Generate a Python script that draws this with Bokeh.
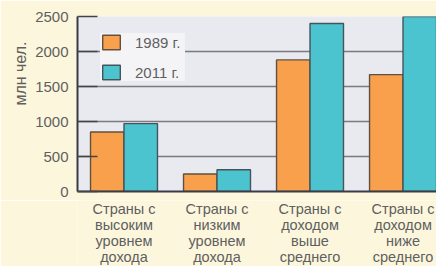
from bokeh.plotting import figure
from bokeh.layouts import column
from bokeh.models import Range1d, FixedTicker, Title, Legend, LegendItem, ColumnDataSource
from bokeh.transform import dodge
from bokeh.embed import file_html
from bokeh.resources import INLINE
from bokeh.core.properties import value

categories = ["Страны с\nвысоким\nуровнем\nдохода",
              "Страны с\nнизким\nуровнем\nдохода",
              "Страны с\nдоходом\nвыше\nсреднего",
              "Страны с\nдоходом\nниже\nсреднего"]
values_1989 = [850, 250, 1880, 1670]
values_2011 = [970, 310, 2400, 2540]
y_ticks = [0, 500, 1000, 1500, 2000, 2500]

pos = [i + 0.5 for i in range(len(categories))]
src = ColumnDataSource(dict(x=pos, v1989=values_1989, v2011=values_2011, cat=categories))

FONT = "Liberation Sans"
TXT = "#5f5f5f"
CREAM = "#fcf7dc"

W = 436
H1 = 200
H2 = 66
xr = Range1d(0, 3.86)

p = figure(width=W, height=H1, output_backend="svg", toolbar_location=None,
           x_range=xr, y_range=Range1d(0, 2500),
           min_border_left=77, min_border_right=0, min_border_top=16, min_border_bottom=9)
p.background_fill_color = "#e9e9f0"
p.border_fill_color = CREAM
p.outline_line_color = None

r1 = p.vbar(x=dodge("x", -0.18, range=p.x_range), top="v1989", width=0.36, source=src,
            fill_color="#f8a04c", line_color="#5f5040", line_width=1.4)
r2 = p.vbar(x=dodge("x", 0.18, range=p.x_range), top="v2011", width=0.36, source=src,
            fill_color="#4cc4d0", line_color="#44545a", line_width=1.4)

p.xgrid.visible = False
p.ygrid.ticker = FixedTicker(ticks=y_ticks)
p.ygrid.grid_line_color = "#7a7a80"
p.ygrid.grid_line_width = 1.5

p.yaxis.ticker = FixedTicker(ticks=y_ticks)
p.yaxis.major_tick_in = 20
p.yaxis.major_tick_out = 0
p.yaxis.major_tick_line_color = "#444444"
p.yaxis.major_tick_line_width = 1.5
p.yaxis.minor_tick_line_color = None
p.yaxis.axis_line_color = "#3a3a48"
p.yaxis.axis_line_width = 2
p.yaxis.major_label_text_font = FONT
p.yaxis.major_label_text_font_size = "15px"
p.yaxis.major_label_text_color = TXT
p.yaxis.major_label_standoff = 9

p.xaxis.ticker = FixedTicker(ticks=[])
p.xaxis.major_label_text_font_size = "0px"
p.xaxis.major_label_standoff = 0
p.xaxis.major_tick_line_color = None
p.xaxis.minor_tick_line_color = None
p.xaxis.axis_line_color = "#3a3a48"
p.xaxis.axis_line_width = 2

p.add_layout(Title(text="млн чел.", align="right", offset=25,
                   text_font=FONT, text_font_size="16px", text_color=TXT,
                   text_font_style="normal", standoff=7), "left")

legend = Legend(items=[LegendItem(label="1989 г.", renderers=[r1]),
                       LegendItem(label="2011 г.", renderers=[r2])],
                location=(23, 110), orientation="vertical")
legend.background_fill_color = "#f4f4f7"
legend.background_fill_alpha = 1
legend.border_line_color = None
legend.label_text_font = FONT
legend.label_text_font_size = "15px"
legend.label_text_color = TXT
legend.glyph_width = 22
legend.glyph_height = 18
legend.label_height = 18
legend.label_width = 50
legend.label_standoff = 13
legend.spacing = 12
legend.padding = 10
legend.margin = 0
p.add_layout(legend, "center")

p2 = figure(width=W, height=H2, output_backend="svg", toolbar_location=None,
            x_range=xr, y_range=Range1d(0, H2),
            min_border_left=77, min_border_right=0, min_border_top=0, min_border_bottom=0)
p2.axis.visible = False
p2.grid.visible = False
p2.outline_line_color = None
p2.background_fill_color = CREAM
p2.border_fill_color = CREAM
p2.text(x="x", y=H2, text="cat", source=src, text_align="center", text_baseline="top",
        text_font=value(FONT), text_font_size="14.5px", text_color=TXT, text_line_height=1.0)

layout = column(p, p2, spacing=0)
open("out.html", "w").write(file_html(layout, INLINE))
